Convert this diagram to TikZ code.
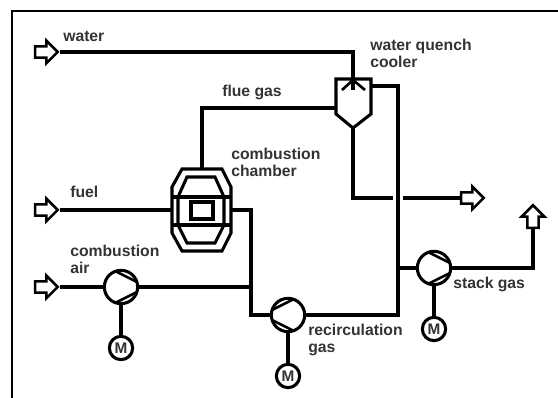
\documentclass[tikz,border=0pt]{standalone}
\usepackage{fontspec}
\setmainfont{Liberation Sans}
\usetikzlibrary{shapes.arrows}
\definecolor{labelgray}{HTML}{333333}

\tikzset{
    pipe/.style={line width=2.3pt, black, line join=miter},
    thinpipe/.style={line width=2pt, black},
    feedarrow/.style={shape=single arrow, draw=black, fill=white, line width=1.9pt, inner xsep=0pt, inner ysep=3.2pt,
        minimum height=17pt, single arrow head extend=4.4pt, anchor=tip},
    pump/.style={circle, draw=black, fill=white, line width=2.3pt, minimum size=25pt, inner sep=0pt},
    motor/.style={circle, draw=black, fill=white, line width=2.3pt, minimum size=17.5pt, inner sep=0pt, font=\bfseries\fontsize{11.5}{12}\selectfont, text=labelgray},
    tag/.style={anchor=west, inner sep=0pt, align=left, text=labelgray, font=\bfseries\fontsize{11.8}{12.6}\selectfont},
}

\begin{document}
\begin{tikzpicture}[x=0.75pt, y=-0.75pt]
    \useasboundingbox (0,0) rectangle (558,398);
    % frame
    \draw[line width=2pt, black](12,398)--(12,11)--(558,11);

    % connections
    \node[feedarrow] (waterin) at (59.5,52) {};
    \node[feedarrow] (fuelin) at (59.5,210) {};
    \node[feedarrow] (airin) at (59.5,287) {};
    \node[feedarrow] (drainout) at (485.5,198) {};
    \node[feedarrow, rotate=90] (stackout) at (533,203.5) {};

    \coordinate (spray) at (353,90);
    \coordinate (coolerleft) at (336,108);
    \coordinate (coolerright) at (371,86);
    \coordinate (coolerbottom) at (353,128);
    \coordinate (chamberleft) at (172,210);
    \coordinate (chamberright) at (231,210);
    \coordinate (chambertop) at (202,169);

    \node[pump] (airfan) at (121,287) {};
    \node[pump] (recfan) at (288,315) {};
    \node[pump] (stackfan) at (434,268) {};
    \node[motor] (airmotor) at (121,348) {M};
    \node[motor] (recmotor) at (288,376) {M};
    \node[motor] (stackmotor) at (434,329) {M};

    \draw[pipe](waterin.east)-|(spray);
    \draw[pipe](chambertop)|-(coolerleft);
    \draw[pipe](fuelin.east)--(chamberleft);
    \draw[pipe](airin.east)--(airfan.west);
    \draw[pipe](airfan.east)--(251,287);
    \draw[pipe](chamberright)-|(251,315)--(recfan.west);
    \draw[pipe](recfan.east)-|(398,86)--(coolerright);
    \draw[pipe](398,268)--(stackfan.west);
    \draw[pipe](stackfan.east)-|(stackout.west);
    \draw[pipe](coolerbottom)|-(393,198);
    \draw[pipe](403,198)--(drainout.west);
    \draw[pipe](airfan.south)--(airmotor.north);
    \draw[pipe](recfan.south)--(recmotor.north);
    \draw[pipe](stackfan.south)--(stackmotor.north);

    % pump blades
    \foreach \cx/\cy/\dir in {121/287/1, 434/268/1, 288/315/-1}{
        \draw[thinpipe](\cx-\dir*6,\cy-16)--(\cx+\dir*16,\cy-5);
        \draw[thinpipe](\cx-\dir*6,\cy+16)--(\cx+\dir*16,\cy+5);
    }

    % quench cooler
    \draw[pipe](336,79)--(371,79)--(371,114)--(353,128)--(336,114)--cycle;
    \draw[thinpipe](342,90)--(353,80)--(365,90);

    % combustion chamber
    \draw[pipe](182,169)--(222,169)--(231,187)--(231,233)--(222,251)--(182,251)--(172,233)--(172,187)--cycle;
    \draw[pipe](187,177)--(215,177)--(224,197)--(224,225)--(215,243)--(187,243)--(178,225)--(178,197)--cycle;
    \draw[pipe](172,197)--(231,197);
    \draw[pipe](172,225)--(231,225);
    \draw[pipe](191,202) rectangle (213,219);

    % labels
    \node[tag] (waterlabel) at (63,36) {water};
    \node[tag] (coolerlabel) at (370,53) {water quench\\cooler};
    \node[tag] (fluelabel) at (222,92) {flue gas};
    \node[tag] (chamberlabel) at (231,162) {combustion\\chamber};
    \node[tag] (fuellabel) at (70,192) {fuel};
    \node[tag] (airlabel) at (70,259) {combustion\\air};
    \node[tag] (reclabel) at (308,340) {recirculation\\gas};
    \node[tag] (stacklabel) at (453,284) {stack gas};
\end{tikzpicture}
\end{document}
